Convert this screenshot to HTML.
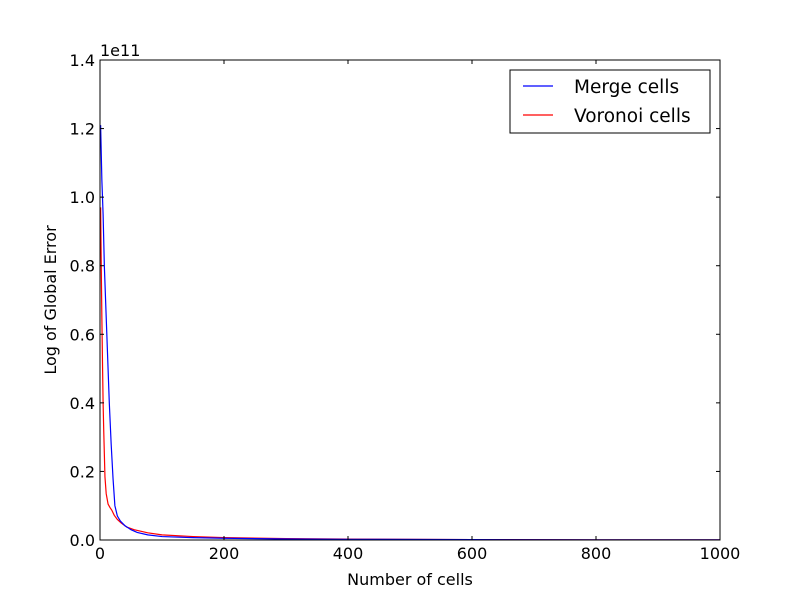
<!DOCTYPE html>
<html><head><meta charset="utf-8"><style>
body{margin:0;background:#fff}
svg{display:block;font-family:"DejaVu Sans","Liberation Sans",sans-serif}
</style></head><body>
<svg id="chart" width="800" height="600">
<rect width="800" height="600" fill="#fff"/>
<g id="plot"></g>
</svg>
<script>
const xTicks=[0,200,400,600,800,1000];
const yTicks=[0.0,0.2,0.4,0.6,0.8,1.0,1.2,1.4];
const mergeX=[1,3,5,7,10,13,15,18,21,24,28,33,40,50,60,77,100,150,200,300,400,600,800,1000];
const mergeY=[12.1,10.5,9.5,8.0,6.5,5.0,4.0,2.8,1.8,1.0,0.7,0.55,0.42,0.3,0.22,0.15,0.1,0.07,0.05,0.03,0.02,0.01,0.005,0.003];
const voronoiX=[1,2,3,4,5,6,8,10,13,16,19,23,28,34,43,55,77,100,150,200,300,400,600,800,1000];
const voronoiY=[9.7,8.0,6.5,5.2,4.0,3.2,1.84,1.35,1.05,0.95,0.87,0.72,0.6,0.5,0.38,0.3,0.21,0.15,0.1,0.07,0.04,0.025,0.012,0.006,0.003];
const L=100,R=720,T=60,B=540;
const sx=v=>L+(v-0)/(1000)*(R-L);
const sy=v=>B-(v/14)*(B-T);
const ns="http://www.w3.org/2000/svg";
const g=document.getElementById('plot');
function mk(tag,attrs,parent){const e=document.createElementNS(ns,tag);for(const k in attrs)e.setAttribute(k,attrs[k]);(parent||g).appendChild(e);return e;}
function series(xs,ys,color,name){
  const p=mk('polyline',{points:xs.map((x,i)=>sx(x)+','+sy(ys[i])).join(' '),fill:'none',stroke:color,'stroke-width':1.2});
  
  
}
series(voronoiX,voronoiY,'#ff0000','voronoi-cells-line');
series(mergeX,mergeY,'#0000ff','merge-cells-line');
const frame=mk('rect',{x:L,y:T,width:R-L,height:B-T,fill:'none',stroke:'#000','stroke-width':1});


xTicks.forEach(t=>{
  const x=sx(t);
  mk('line',{x1:x,x2:x,y1:B,y2:B-4,stroke:'#000'});
  mk('line',{x1:x,x2:x,y1:T,y2:T+4,stroke:'#000'});
  const tx=mk('text',{x:x,y:B+19,'text-anchor':'middle','font-size':16});
  tx.textContent=t;
  
  
});
yTicks.forEach(t=>{
  const y=sy(t*10);
  mk('line',{x1:L,x2:L+4,y1:y,y2:y,stroke:'#000'});
  mk('line',{x1:R,x2:R-4,y1:y,y2:y,stroke:'#000'});
  const tx=mk('text',{x:L-5,y:y+6,'text-anchor':'end','font-size':16});
  tx.textContent=t.toFixed(1);
  
  
});
const off=mk('text',{x:L,y:T-4,'font-size':16});off.textContent='1e11';


const xt=mk('text',{x:410,y:585,'text-anchor':'middle','font-size':16});xt.textContent='Number of cells';


const yt=mk('text',{x:56,y:300,'text-anchor':'middle','font-size':16,transform:'rotate(-90 56 300)'});yt.textContent='Log of Global Error';


const lg=mk('g',{});


mk('rect',{x:510,y:70,width:200,height:63,fill:'#fff',stroke:'#000'},lg);
[['Merge cells','#0000ff',86],['Voronoi cells','#ff0000',115]].forEach(([n,c,y])=>{
  const e=mk('g',{},lg);
  
  
  mk('line',{x1:523,x2:553,y1:y,y2:y,stroke:c,'stroke-width':1.2},e);
  const t=mk('text',{x:574,y:y+7,'font-size':18.5},e);t.textContent=n;
});
</script>
</body></html>
